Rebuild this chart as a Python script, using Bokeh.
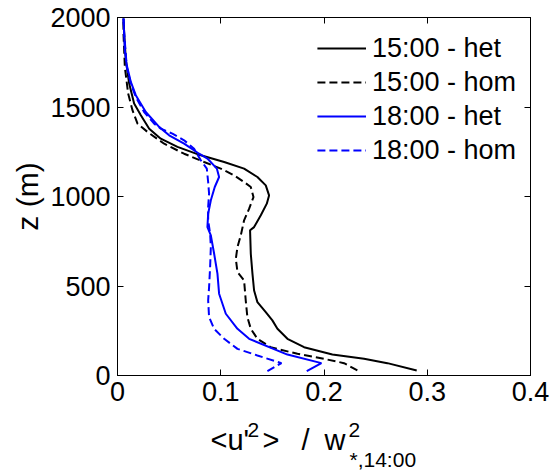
from bokeh.plotting import figure
from bokeh.layouts import column
from bokeh.models import (LinearAxis, FixedTicker, CustomJSTickFormatter, Range1d,
                          Legend, LegendItem)
from bokeh.core.properties import value
from bokeh.embed import file_html
from bokeh.resources import INLINE

# ---- data ----
z_het15 = [28, 69, 93, 117, 158, 205, 261, 308, 354, 410, 475, 569, 680, 811, 829, 895, 960,
           1006, 1062, 1109, 1156, 1193, 1230, 1277, 1323, 1379, 1454, 1519, 1631, 1761, 1910, 1994]
u_het15 = [0.2898, 0.2614, 0.2388, 0.2081, 0.1807, 0.1646, 0.1549, 0.1500, 0.1436, 0.1355, 0.1323,
           0.1307, 0.1291, 0.1284, 0.1323, 0.1388, 0.1446, 0.1468, 0.1436, 0.1355, 0.1226, 0.1033,
           0.0807, 0.0581, 0.0419, 0.0307, 0.0226, 0.0161, 0.0113, 0.0081, 0.0065, 0.0058]

z_hom15 = [28, 69, 93, 121, 158, 205, 261, 326, 419, 531, 578, 652, 718, 783, 867, 932, 997,
           1053, 1081, 1118, 1156, 1193, 1239, 1295, 1361, 1407, 1482, 1575, 1724, 1910, 1994]
u_hom15 = [0.2323, 0.2194, 0.2000, 0.1743, 0.1484, 0.1355, 0.1291, 0.1258, 0.1242, 0.1226, 0.1162,
           0.1146, 0.1162, 0.1194, 0.1226, 0.1275, 0.1317, 0.1291, 0.1226, 0.1129, 0.1000, 0.0839,
           0.0645, 0.0452, 0.0290, 0.0194, 0.0145, 0.0103, 0.0071, 0.0058, 0.0058]

z_het18 = [24, 69, 117, 205, 261, 345, 457, 569, 680, 783, 829, 904, 979, 1053, 1109, 1156, 1212,
           1239, 1295, 1342, 1389, 1472, 1566, 1640, 1733, 1817, 1994]
u_het18 = [0.1833, 0.1975, 0.1646, 0.1275, 0.1162, 0.1049, 0.0984, 0.0968, 0.0936, 0.0904, 0.0871,
           0.0878, 0.0904, 0.0942, 0.0984, 0.0962, 0.0871, 0.0791, 0.0645, 0.0500, 0.0403, 0.0274,
           0.0177, 0.0129, 0.0090, 0.0071, 0.0058]

z_hom18 = [24, 69, 112, 149, 205, 261, 326, 419, 494, 606, 718, 792, 867, 941, 1016, 1081, 1156,
           1202, 1267, 1314, 1351, 1379, 1407, 1472, 1556, 1631, 1724, 1910, 1994]
u_hom18 = [0.1452, 0.1588, 0.1355, 0.1162, 0.1033, 0.0936, 0.0887, 0.0878, 0.0887, 0.0897, 0.0904,
           0.0897, 0.0878, 0.0878, 0.0887, 0.0878, 0.0865, 0.0807, 0.0742, 0.0645, 0.0532, 0.0419,
           0.0355, 0.0258, 0.0177, 0.0129, 0.0090, 0.0065, 0.0058]

x_ticks = [0, 0.1, 0.2, 0.3, 0.4]
y_ticks = [0, 500, 1000, 1500, 2000]
series_labels = ["15:00 - het", "15:00 - hom", "18:00 - het", "18:00 - hom"]

# x-axis label pieces (pixel positions of left edge / baseline in the strip)
xlabel_main = ["<u'", ">", "/", "w"]
xlabel_main_x = [210, 262, 301, 324]
xlabel_script = ["2", "2", "*,14:00"]
xlabel_script_x = [247, 348, 349]
xlabel_script_base = [429, 429, 459]
MAIN_BASE = 439

FONT = "Liberation Sans"
TICK_SIZE = "27px"
LEFT, RIGHT_B = 117, 21

p = figure(width=551, height=415, output_backend="svg", toolbar_location=None,
           x_range=Range1d(0, 0.4), y_range=Range1d(0, 2000),
           min_border_left=LEFT, min_border_right=RIGHT_B, min_border_top=17, min_border_bottom=40)
p.background_fill_color = "white"
p.border_fill_color = "white"
p.grid.visible = False
p.outline_line_color = "black"
p.outline_line_width = 1

fmt_x = CustomJSTickFormatter(code="return parseFloat(tick.toFixed(2)).toString();")
fmt_y = CustomJSTickFormatter(code="return Math.round(tick).toString();")
empty = CustomJSTickFormatter(code="return '';")

for ax in (p.xaxis[0], p.yaxis[0]):
    ax.major_tick_in = 6
    ax.major_tick_out = 0
    ax.minor_tick_line_color = None
    ax.axis_line_color = "black"
    ax.major_tick_line_color = "black"
    ax.major_label_text_font = FONT
    ax.major_label_text_font_size = TICK_SIZE
    ax.major_label_text_color = "black"

p.xaxis[0].ticker = FixedTicker(ticks=x_ticks)
p.xaxis[0].formatter = fmt_x
p.xaxis[0].major_label_standoff = 6
p.yaxis[0].ticker = FixedTicker(ticks=y_ticks)
p.yaxis[0].formatter = fmt_y
p.yaxis[0].major_label_standoff = 7
p.yaxis[0].axis_label = "z (m)"
p.yaxis[0].axis_label_text_font = FONT
p.yaxis[0].axis_label_text_font_size = "30px"
p.yaxis[0].axis_label_text_font_style = "normal"
p.yaxis[0].axis_label_text_color = "black"
p.yaxis[0].axis_label_standoff = 3

top = LinearAxis(ticker=FixedTicker(ticks=x_ticks), formatter=empty,
                 major_tick_in=6, major_tick_out=0, minor_tick_line_color=None,
                 major_label_text_font_size="1px", major_label_standoff=0)
right = LinearAxis(ticker=FixedTicker(ticks=y_ticks), formatter=empty,
                   major_tick_in=6, major_tick_out=0, minor_tick_line_color=None,
                   major_label_text_font_size="1px", major_label_standoff=0)
p.add_layout(top, "above")
p.add_layout(right, "right")

r1 = p.line(u_het15, z_het15, line_color="black", line_width=2)
r2 = p.line(u_hom15, z_hom15, line_color="black", line_width=2, line_dash="8 4")
r3 = p.line(u_het18, z_het18, line_color="blue", line_width=2)
r4 = p.line(u_hom18, z_hom18, line_color="blue", line_width=2, line_dash="8 4")

legend = Legend(items=[LegendItem(label=series_labels[0], renderers=[r1]),
                       LegendItem(label=series_labels[1], renderers=[r2]),
                       LegendItem(label=series_labels[2], renderers=[r3]),
                       LegendItem(label=series_labels[3], renderers=[r4])],
                location="top_right", margin=4, padding=10, spacing=0,
                glyph_width=49, glyph_height=34, label_height=34, label_standoff=6,
                label_text_font=FONT, label_text_font_size="27px", label_text_color="black",
                border_line_alpha=0, background_fill_alpha=0)
p.add_layout(legend)

# ---- strip below the plot holding the x-axis label (with super/subscripts) ----
p2 = figure(width=551, height=57, output_backend="svg", toolbar_location=None,
            x_range=Range1d(LEFT, 551 - RIGHT_B), y_range=Range1d(472, 415),
            min_border_left=LEFT, min_border_right=RIGHT_B, min_border_top=0, min_border_bottom=0)
p2.axis.visible = False
p2.grid.visible = False
p2.outline_line_color = None
p2.background_fill_color = "white"
p2.border_fill_color = "white"
p2.text(x=xlabel_main_x, y=[MAIN_BASE] * len(xlabel_main), text=xlabel_main,
        text_font=value(FONT), text_font_size="29px", text_color="black",
        text_baseline="alphabetic", text_align="left")
p2.text(x=xlabel_script_x, y=xlabel_script_base, text=xlabel_script,
        text_font=value(FONT), text_font_size="21px", text_color="black",
        text_baseline="alphabetic", text_align="left")

layout = column(p, p2, spacing=0)
open("out.html", "w").write(file_html(layout, INLINE))
